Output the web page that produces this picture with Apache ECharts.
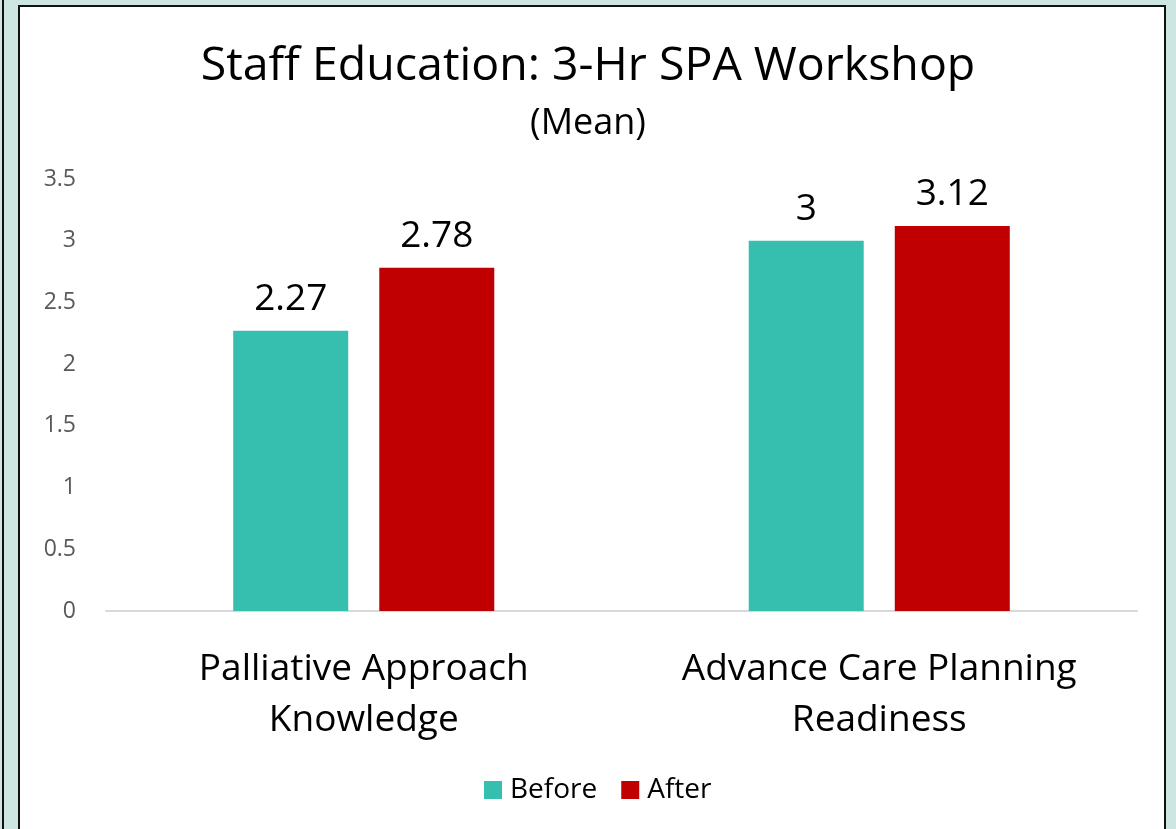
<!DOCTYPE html>
<html>
<head>
<meta charset="utf-8">
<script src="https://cdn.jsdelivr.net/npm/echarts@6/dist/echarts.min.js"></script>
<style>
  html, body { margin: 0; padding: 0; background: #cde6e2; width: 1176px; height: 829px; overflow: hidden; }
  #leftline { position: absolute; left: 2px; top: 0; width: 2px; height: 829px; background: #111; }
  #box { position: absolute; left: 18px; top: 5px; width: 1144px; height: 840px; background: #fff; border: 2px solid #111; }
  #main { position: absolute; left: 0; top: 0; width: 1176px; height: 829px; }
</style>
</head>
<body>
<div id="leftline"></div>
<div id="box"></div>
<div id="main"></div>
<script>
// chart data
var categories = ["Palliative Approach\nKnowledge", "Advance Care Planning\nReadiness"];
var beforeValues = [2.27, 3];
var afterValues = [2.78, 3.12];
var seriesNames = ["Before", "After"];

var chartDom = document.getElementById("main");
var myChart = echarts.init(chartDom);
var fontFamily = "Open Sans";
var option;

option = {
  textStyle: { fontFamily: fontFamily },
  title: {
    text: "Staff Education: 3-Hr SPA Workshop",
    subtext: "(Mean)",
    left: "center",
    top: 38,
    itemGap: 16,
    textStyle: { fontFamily: fontFamily, fontSize: 46.5, fontWeight: "normal", color: "#000" },
    subtextStyle: { fontFamily: fontFamily, fontSize: 36, color: "#000" },
  },
  legend: {
    data: seriesNames,
    bottom: 20,
    left: 479,
    itemWidth: 18,
    itemHeight: 18,
    itemGap: 24,
    icon: "rect",
    textStyle: { fontFamily: fontFamily, fontSize: 28, color: "#000", padding: [0, 0, 0, 3] },
  },
  grid: {
    left: 106,
    right: 39,
    top: 179,
    bottom: 218,
  },
  xAxis: {
    type: "category",
    data: categories,
    axisTick: { show: false },
    axisLine: { lineStyle: { color: "#d9d9d9", width: 2 } },
    axisLabel: {
      color: "#000",
      fontSize: 37,
      lineHeight: 51,
      margin: 33,
      fontFamily: fontFamily,
    },
  },
  yAxis: {
    type: "value",
    min: 0,
    max: 3.5,
    interval: 0.5,
    splitLine: { show: false },
    axisLine: { show: false },
    axisTick: { show: false },
    axisLabel: { color: "#595959", fontSize: 23, margin: 30, fontFamily: fontFamily },
  },
  series: [
    {
      name: seriesNames[0],
      type: "bar",
      data: beforeValues,
      barWidth: 115,
      barGap: "27%",
      itemStyle: { color: "#36bfaf" },
      label: { show: true, position: "top", distance: 13, fontSize: 37, color: "#000", fontFamily: fontFamily },
    },
    {
      name: seriesNames[1],
      type: "bar",
      data: afterValues,
      barWidth: 115,
      barGap: "27%",
      itemStyle: { color: "#c00000" },
      label: { show: true, position: "top", distance: 13, fontSize: 37, color: "#000", fontFamily: fontFamily },
    },
  ],
};

option && myChart.setOption(option);
</script>
</body>
</html>
